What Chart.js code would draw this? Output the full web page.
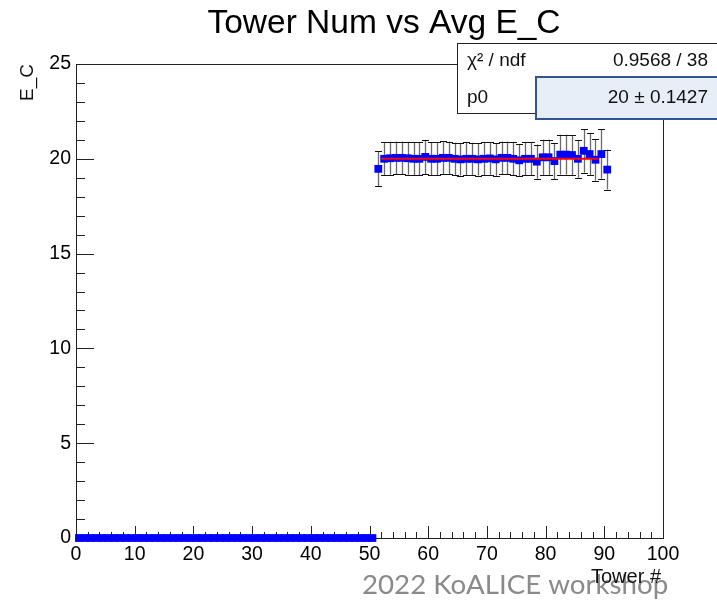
<!DOCTYPE html>
<html>
<head>
<meta charset="utf-8">
<script src="https://cdn.jsdelivr.net/npm/chart.js@4/dist/chart.umd.min.js"></script>
<style>
  body { margin: 0; background: #fff; }
  #wrap { width: 717px; height: 600px; position: relative; }
</style>
</head>
<body>
<div id="wrap"><canvas id="towerChart"></canvas></div>
<script>
// tower bins with no entries (drawn at 0)
const towerEmpty = [0.5, 1.5, 2.5, 3.5, 4.5, 5.5, 6.5, 7.5, 8.5, 9.5,
  10.5, 11.5, 12.5, 13.5, 14.5, 15.5, 16.5, 17.5, 18.5, 19.5,
  20.5, 21.5, 22.5, 23.5, 24.5, 25.5, 26.5, 27.5, 28.5, 29.5,
  30.5, 31.5, 32.5, 33.5, 34.5, 35.5, 36.5, 37.5, 38.5, 39.5,
  40.5, 41.5, 42.5, 43.5, 44.5, 45.5, 46.5, 47.5, 48.5, 49.5, 50.5];
const avgEmpty = [0, 0, 0, 0, 0, 0, 0, 0, 0, 0,
  0, 0, 0, 0, 0, 0, 0, 0, 0, 0,
  0, 0, 0, 0, 0, 0, 0, 0, 0, 0,
  0, 0, 0, 0, 0, 0, 0, 0, 0, 0,
  0, 0, 0, 0, 0, 0, 0, 0, 0, 0, 0];

// tower bins with hits
const towerHit = [51.5, 52.5, 53.5, 54.5, 55.5, 56.5, 57.5, 58.5, 59.5, 60.5,
  61.5, 62.5, 63.5, 64.5, 65.5, 66.5, 67.5, 68.5, 69.5, 70.5,
  71.5, 72.5, 73.5, 74.5, 75.5, 76.5, 77.5, 78.5, 79.5, 80.5,
  81.5, 82.5, 83.5, 84.5, 85.5, 86.5, 87.5, 88.5, 89.5, 90.5];
const avgHit = [19.47, 20.00, 20.03, 20.05, 20.05, 20.03, 20.00, 20.00, 20.10, 20.00,
  20.00, 20.05, 20.05, 20.00, 19.97, 20.00, 20.00, 19.97, 20.00, 20.02,
  19.97, 20.05, 20.05, 20.00, 19.92, 20.00, 20.00, 19.85, 20.08, 20.08,
  19.88, 20.22, 20.22, 20.20, 20.00, 20.42, 20.25, 19.95, 20.25, 19.43];
const errHit = [0.92, 0.88, 0.87, 0.86, 0.86, 0.87, 0.87, 0.88, 0.90, 0.86,
  0.86, 0.87, 0.86, 0.85, 0.86, 0.86, 0.85, 0.86, 0.87, 0.86,
  0.87, 0.86, 0.86, 0.88, 0.85, 0.87, 0.88, 0.90, 0.93, 0.93,
  0.95, 1.05, 1.05, 1.05, 1.00, 1.15, 1.10, 1.10, 1.30, 1.05];

// constant fit
const fitRange = [52, 89];
const fitP0 = 20;
const fitStats = [['χ² / ndf', '0.9568 / 38'], ['p0', '20 ± 0.1427']];

const xTicks = [0, 10, 20, 30, 40, 50, 60, 70, 80, 90, 100];
const yTicks = [0, 5, 10, 15, 20, 25];

const FONT = '"Liberation Sans", Arial, sans-serif';

// ROOT-like frame, inside ticks, error bars and text boxes
const rootStyle = {
  id: 'rootStyle',
  beforeDatasetsDraw(chart) {
    const { ctx, chartArea: a, scales: { x, y } } = chart;
    ctx.save();
    ctx.strokeStyle = '#222';
    ctx.lineWidth = 1;
    ctx.strokeRect(a.left + 0.5, a.top + 0.5, a.width, a.height);

    ctx.beginPath();
    for (let v = 0; v <= 100; v += 2) {
      const px = Math.round(x.getPixelForValue(v)) + 0.5;
      const len = v % 10 === 0 ? 12 : 6;
      ctx.moveTo(px, a.bottom);
      ctx.lineTo(px, a.bottom - len);
    }
    for (let v = 0; v <= 25; v += 1) {
      const py = Math.round(y.getPixelForValue(v)) + 0.5;
      const len = v % 5 === 0 ? 18 : 9;
      ctx.moveTo(a.left, py);
      ctx.lineTo(a.left + len, py);
    }
    ctx.stroke();

    // error bars
    towerHit.forEach((t, i) => {
      const px = Math.round(x.getPixelForValue(t)) + 0.5;
      const top = y.getPixelForValue(avgHit[i] + errHit[i]);
      const bot = y.getPixelForValue(avgHit[i] - errHit[i]);
      ctx.strokeStyle = '#6a6a6a';
      ctx.lineWidth = 1.3;
      ctx.beginPath();
      ctx.moveTo(px, top);
      ctx.lineTo(px, bot);
      ctx.stroke();
      ctx.strokeStyle = '#111';
      ctx.lineWidth = 1;
      ctx.beginPath();
      ctx.moveTo(px - 3.5, Math.round(top) + 0.5);
      ctx.lineTo(px + 3.5, Math.round(top) + 0.5);
      ctx.moveTo(px - 3.5, Math.round(bot) + 0.5);
      ctx.lineTo(px + 3.5, Math.round(bot) + 0.5);
      ctx.stroke();
    });
    ctx.restore();
  },
  afterDraw(chart) {
    const { ctx, chartArea: a } = chart;
    ctx.save();

    // title
    ctx.fillStyle = '#000';
    ctx.font = '33.5px ' + FONT;
    ctx.textAlign = 'center';
    ctx.textBaseline = 'alphabetic';
    ctx.fillText('Tower Num vs Avg E_C', 384, 33);

    // stats box
    ctx.fillStyle = '#fff';
    ctx.fillRect(457, 43, 270, 70);
    ctx.strokeStyle = '#222';
    ctx.lineWidth = 1;
    ctx.strokeRect(457.5, 43.5, 270, 70);
    ctx.fillStyle = '#e8eef8';
    ctx.fillRect(535, 76, 190, 43);
    ctx.strokeStyle = '#2f5597';
    ctx.lineWidth = 2;
    ctx.strokeRect(536, 77, 190, 42);

    ctx.fillStyle = '#111';
    ctx.font = '19px ' + FONT;
    fitStats.forEach((row, i) => {
      const base = 66 + i * 37;
      ctx.textAlign = 'left';
      ctx.fillText(row[0], 467, base);
      ctx.textAlign = 'right';
      ctx.fillText(row[1], 708, base);
    });

    // y axis title
    ctx.save();
    ctx.translate(33, a.top);
    ctx.rotate(-Math.PI / 2);
    ctx.textAlign = 'right';
    ctx.font = '19px ' + FONT;
    ctx.fillText('E_C', 0, 0);
    ctx.restore();

    // watermark
    ctx.fillStyle = '#8a8a8a';
    ctx.font = '27.7px Lato, "Open Sans", sans-serif';
    ctx.textAlign = 'left';
    ctx.fillText('2022 KoALICE workshop', 362, 594);

    // x axis title
    ctx.fillStyle = '#111';
    ctx.font = '20px ' + FONT;
    ctx.textAlign = 'right';
    ctx.fillText('Tower #', 661, 583);
    ctx.restore();
  }
};

new Chart(document.getElementById('towerChart'), {
  type: 'scatter',
  data: {
    datasets: [
      {
        type: 'line',
        label: 'fit',
        data: fitRange.map(t => ({ x: t, y: fitP0 })),
        borderColor: '#ff0000',
        borderWidth: 2,
        pointRadius: 0,
        order: 0
      },
      {
        label: 'E_C',
        data: towerHit.map((t, i) => ({ x: t, y: avgHit[i] })),
        pointStyle: 'rect',
        pointRadius: 5.5,
        backgroundColor: '#0000ff',
        borderWidth: 0,
        order: 1
      },
      {
        label: 'empty',
        data: towerEmpty.map((t, i) => ({ x: t, y: avgEmpty[i] })),
        pointStyle: 'rect',
        pointRadius: 5.5,
        backgroundColor: '#0000ff',
        borderWidth: 0,
        clip: false,
        order: 2
      }
    ]
  },
  options: {
    responsive: true,
    maintainAspectRatio: false,
    animation: false,
    layout: { padding: { left: 0, right: 54, top: 64, bottom: 0 } },
    plugins: {
      legend: { display: false },
      tooltip: { enabled: false },
      title: { display: false }
    },
    scales: {
      x: {
        type: 'linear',
        min: 0,
        max: 100,
        afterFit: s => { s.height = 62; },
        afterBuildTicks: s => { s.ticks = xTicks.map(v => ({ value: v })); },
        grid: { display: false, drawTicks: false },
        border: { display: false },
        ticks: { color: '#000', padding: 5, font: { family: FONT, size: 19.5 } }
      },
      y: {
        min: 0,
        max: 25,
        afterFit: s => { s.width = 76; },
        afterBuildTicks: s => { s.ticks = yTicks.map(v => ({ value: v })); },
        grid: { display: false, drawTicks: false },
        border: { display: false },
        ticks: { color: '#000', padding: 5, font: { family: FONT, size: 19.5 } }
      }
    }
  },
  plugins: [rootStyle]
});
</script>
</body>
</html>
